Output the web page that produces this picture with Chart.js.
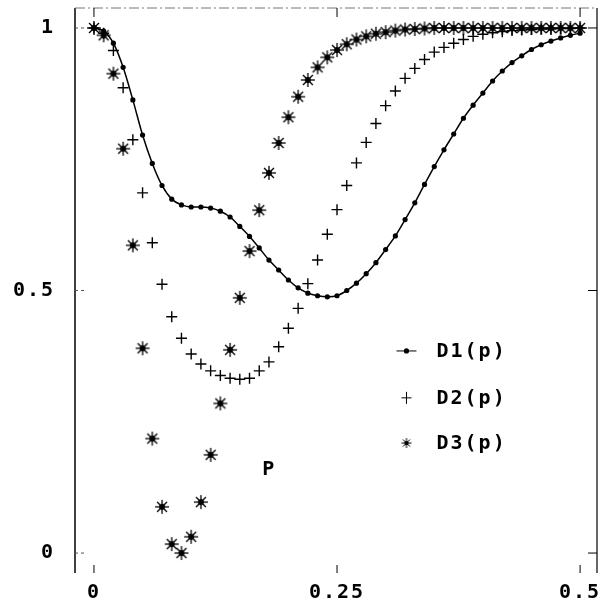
<!DOCTYPE html>
<html>
<head>
<meta charset="utf-8">
<script src="https://cdn.jsdelivr.net/npm/chart.js@4.4.0/dist/chart.umd.min.js"></script>
<style>
  html, body { margin: 0; padding: 0; background: #fff; }
  #wrap { width: 605px; height: 603px; }
</style>
</head>
<body>
<div id="wrap"><canvas id="chart" width="605" height="603"></canvas></div>
<script>
// p values (x axis), one point every 0.01
const pValues = [
  0, 0.01, 0.02, 0.03, 0.04, 0.05, 0.06, 0.07, 0.08, 0.09,
  0.10, 0.11, 0.12, 0.13, 0.14, 0.15, 0.16, 0.17, 0.18, 0.19,
  0.20, 0.21, 0.22, 0.23, 0.24, 0.25, 0.26, 0.27, 0.28, 0.29,
  0.30, 0.31, 0.32, 0.33, 0.34, 0.35, 0.36, 0.37, 0.38, 0.39,
  0.40, 0.41, 0.42, 0.43, 0.44, 0.45, 0.46, 0.47, 0.48, 0.49, 0.50
];
const d1Values = [
  1.000, 0.994, 0.971, 0.925, 0.863, 0.796, 0.742, 0.700, 0.674, 0.663,
  0.659, 0.659, 0.657, 0.651, 0.640, 0.622, 0.603, 0.581, 0.558, 0.539,
  0.520, 0.505, 0.495, 0.490, 0.488, 0.490, 0.500, 0.514, 0.532, 0.553,
  0.578, 0.604, 0.635, 0.667, 0.702, 0.736, 0.768, 0.798, 0.828, 0.853,
  0.876, 0.899, 0.918, 0.934, 0.947, 0.959, 0.968, 0.975, 0.981, 0.986, 0.990
];
const d2Values = [
  1.000, 0.990, 0.957, 0.886, 0.787, 0.686, 0.591, 0.512, 0.450, 0.409,
  0.379, 0.360, 0.347, 0.338, 0.333, 0.331, 0.333, 0.347, 0.364, 0.393,
  0.428, 0.466, 0.513, 0.558, 0.607, 0.654, 0.700, 0.743, 0.782, 0.818,
  0.852, 0.880, 0.904, 0.923, 0.940, 0.954, 0.963, 0.971, 0.978, 0.984,
  0.988, 0.991, 0.993, 0.995, 0.996, 0.997, 0.998, 0.998, 0.999, 0.999, 1.000
];
const d3Values = [
  1.000, 0.986, 0.913, 0.770, 0.586, 0.390, 0.218, 0.088, 0.017, 0.000,
  0.031, 0.097, 0.187, 0.285, 0.387, 0.486, 0.575, 0.653, 0.724, 0.781,
  0.830, 0.869, 0.901, 0.925, 0.944, 0.958, 0.969, 0.978, 0.984, 0.989,
  0.992, 0.995, 0.997, 0.998, 0.999, 1.000, 1.000, 1.000, 1.000, 1.000,
  1.000, 1.000, 1.000, 1.000, 1.000, 1.000, 1.000, 1.000, 1.000, 1.000, 1.000
];
const xTickValues = [0, 0.25, 0.5];
const xTickLabels = ["0", "0.25", "0.5"];
const yTickValues = [0, 0.5, 1];
const yTickLabels = ["0", "0.5", "1"];
const seriesLabels = ["D1(p)", "D2(p)", "D3(p)"];
const axisName = "P";

const FONT = "bold 20px 'DejaVu Sans Mono'";

function makeStar(r, lw) {
  const c = document.createElement("canvas");
  const s = Math.ceil(r * 2 + 4);
  c.width = s; c.height = s;
  const g = c.getContext("2d");
  g.translate(s / 2, s / 2);
  g.strokeStyle = "#000";
  g.fillStyle = "#000";
  g.lineWidth = lw;
  for (let k = 0; k < 4; k++) {
    const a = k * Math.PI / 4;
    g.beginPath();
    g.moveTo(-r * Math.cos(a), -r * Math.sin(a));
    g.lineTo(r * Math.cos(a), r * Math.sin(a));
    g.stroke();
  }
  g.beginPath();
  g.arc(0, 0, r * 0.42, 0, Math.PI * 2);
  g.fill();
  return c;
}
const starBig = makeStar(7, 1.3);
const starSmall = makeStar(5, 1);

const toPoints = (vals) => vals.map((v, i) => ({ x: pValues[i], y: v }));

// frame, inward ticks, legend and the "P" note
const decorations = {
  id: "decorations",
  beforeDraw(chart) {
    chart.ctx.letterSpacing = "2px";
  },
  afterDraw(chart) {
    const { ctx, chartArea: a, scales } = chart;
    ctx.save();
    ctx.strokeStyle = "#000";
    ctx.fillStyle = "#000";

    // left axis
    ctx.lineWidth = 1.5;
    ctx.beginPath(); ctx.moveTo(a.left, a.top); ctx.lineTo(a.left, a.bottom); ctx.stroke();
    // right border
    ctx.lineWidth = 1.2;
    ctx.beginPath(); ctx.moveTo(a.right, a.top); ctx.lineTo(a.right, a.bottom); ctx.stroke();
    // top border, dash-dot grey
    ctx.save();
    ctx.strokeStyle = "#777";
    ctx.lineWidth = 1;
    ctx.setLineDash([10, 3, 2, 3]);
    ctx.beginPath(); ctx.moveTo(a.left, a.top); ctx.lineTo(a.right, a.top); ctx.stroke();
    ctx.restore();

    // tick marks pointing inward
    ctx.lineWidth = 1;
    xTickValues.forEach((v) => {
      const px = scales.x.getPixelForValue(v);
      ctx.beginPath(); ctx.moveTo(px, a.bottom); ctx.lineTo(px, a.bottom - 8); ctx.stroke();
      ctx.beginPath(); ctx.moveTo(px, a.top); ctx.lineTo(px, a.top + 9); ctx.stroke();
    });
    yTickValues.forEach((v) => {
      const py = scales.y.getPixelForValue(v);
      ctx.save();
      ctx.strokeStyle = "#555";
      ctx.setLineDash([3, 3]);
      ctx.beginPath(); ctx.moveTo(a.left, py); ctx.lineTo(a.left + 12, py); ctx.stroke();
      ctx.restore();
      ctx.beginPath(); ctx.moveTo(a.right, py); ctx.lineTo(a.right - 9, py); ctx.stroke();
    });

    // legend inside the plot
    ctx.font = FONT;
    ctx.letterSpacing = "2px";
    ctx.textBaseline = "middle";
    ctx.textAlign = "left";
    const mx = a.left + (a.right - a.left) * 0.635;
    const tx = mx + 30;
    const rows = [a.top + (a.bottom - a.top) * 0.607,
                  a.top + (a.bottom - a.top) * 0.69,
                  a.top + (a.bottom - a.top) * 0.77];
    // D1
    ctx.lineWidth = 1;
    ctx.beginPath(); ctx.moveTo(mx - 10, rows[0]); ctx.lineTo(mx + 10, rows[0]); ctx.stroke();
    ctx.beginPath(); ctx.arc(mx, rows[0], 2.6, 0, Math.PI * 2); ctx.fill();
    // D2
    ctx.beginPath(); ctx.moveTo(mx - 5, rows[1]); ctx.lineTo(mx + 5, rows[1]);
    ctx.moveTo(mx, rows[1] - 6); ctx.lineTo(mx, rows[1] + 6); ctx.stroke();
    // D3
    ctx.drawImage(starSmall, mx - starSmall.width / 2, rows[2] - starSmall.height / 2);
    seriesLabels.forEach((t, i) => ctx.fillText(t, tx, rows[i] + 1));

    // axis note
    ctx.textAlign = "center";
    ctx.fillText(axisName, a.left + (a.right - a.left) * 0.372, a.top + (a.bottom - a.top) * 0.818);
    ctx.restore();
  }
};

new Chart(document.getElementById("chart"), {
  type: "scatter",
  data: {
    datasets: [
      {
        label: seriesLabels[0],
        data: toPoints(d1Values),
        showLine: true,
        borderColor: "#000",
        backgroundColor: "#000",
        borderWidth: 1.5,
        pointStyle: "circle",
        pointRadius: 2.6,
        pointBorderWidth: 0,
        cubicInterpolationMode: "monotone",
      },
      {
        label: seriesLabels[1],
        data: toPoints(d2Values),
        showLine: false,
        borderColor: "#000",
        backgroundColor: "#000",
        pointStyle: "cross",
        pointRadius: 5.5,
        pointBorderWidth: 1.4,
      },
      {
        label: seriesLabels[2],
        data: toPoints(d3Values),
        showLine: false,
        pointStyle: starBig,
        pointRadius: 7,
      },
    ],
  },
  options: {
    responsive: false,
    animation: false,
    events: [],
    layout: { padding: { left: 0, right: 6, top: 6, bottom: 0 } },
    plugins: { legend: { display: false }, tooltip: { enabled: false } },
    scales: {
      x: {
        type: "linear",
        min: -0.0195,
        max: 0.5174,
        grid: { display: false, drawTicks: false },
        border: { display: false },
        afterBuildTicks: (s) => { s.ticks = xTickValues.map((v) => ({ value: v })); },
        afterFit: (s) => { s.height = 30; s.paddingLeft = 0; s.paddingRight = 0; },
        ticks: {
          color: "#000",
          font: { family: "'DejaVu Sans Mono'", size: 20, weight: "bold" },
          padding: 8,
          maxRotation: 0,
          autoSkip: false,
          callback: (v) => xTickLabels[xTickValues.indexOf(v)],
        },
      },
      y: {
        type: "linear",
        min: -0.038,
        max: 1.038,
        grid: { display: false, drawTicks: false },
        border: { display: false },
        afterBuildTicks: (s) => { s.ticks = yTickValues.map((v) => ({ value: v })); },
        afterFit: (s) => { s.width = 75; s.paddingTop = 0; s.paddingBottom = 0; },
        ticks: {
          color: "#000",
          font: { family: "'DejaVu Sans Mono'", size: 20, weight: "bold" },
          padding: 20,
          autoSkip: false,
          callback: (v) => yTickLabels[yTickValues.indexOf(v)],
        },
      },
    },
  },
  plugins: [decorations],
});
</script>
</body>
</html>
